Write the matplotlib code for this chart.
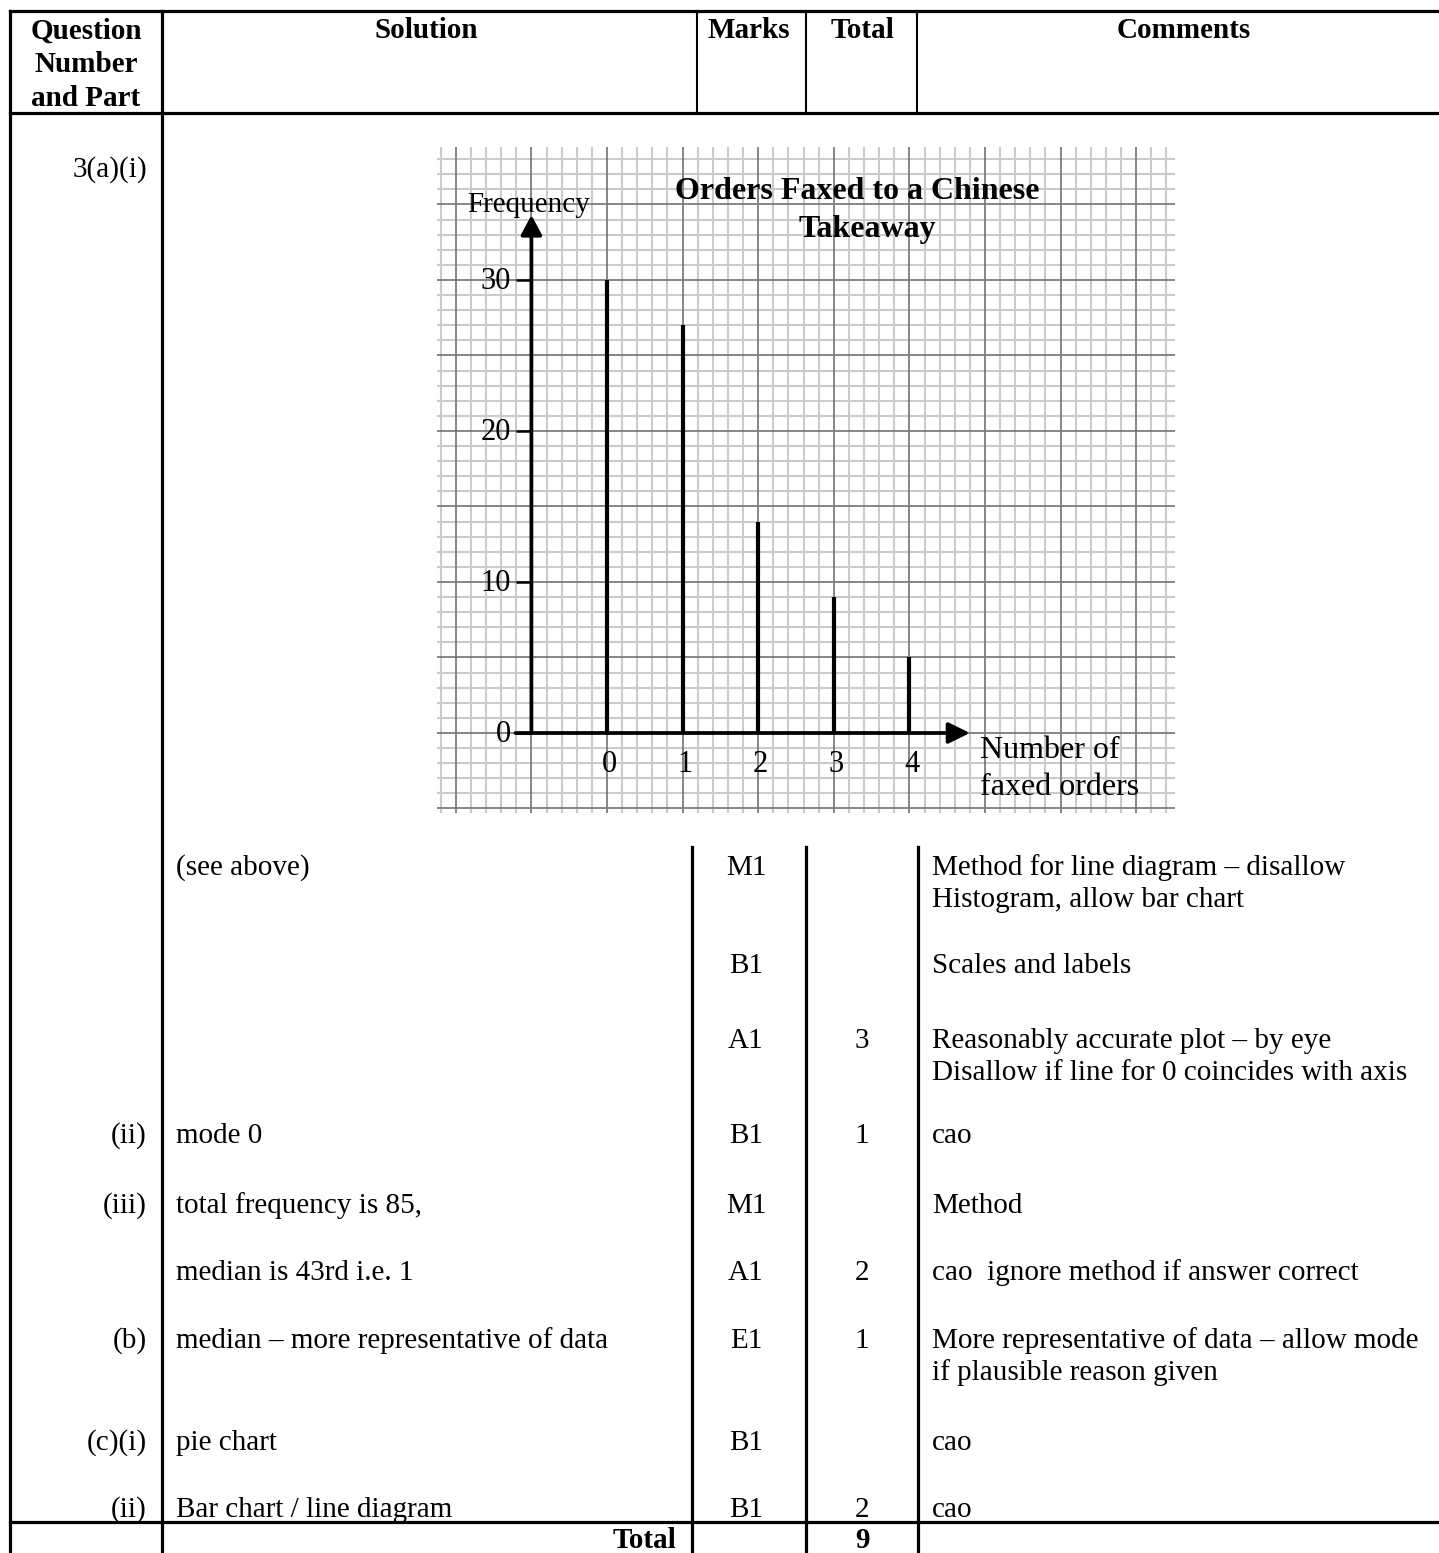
import numpy as np
import matplotlib
matplotlib.use("Agg")
import matplotlib.pyplot as plt

plt.rcParams['font.family'] = ['Liberation Serif', 'DejaVu Serif']

# Chart data
orders = [0, 1, 2, 3, 4]
frequency = [30, 27, 14, 9, 5]
y_ticks = [0, 10, 20, 30]
chart_title = ["Orders Faxed to a Chinese", "Takeaway"]
y_label = "Frequency"
x_label = ["Number of", "faxed orders"]

# Table contents
header_cols = ["Question\nNumber\nand Part", "Solution", "Marks", "Total", "Comments"]
first_part = "3(a)(i)"
row_parts = ["", "", "", "(ii)", "(iii)", "", "(b)", "(c)(i)", "(ii)"]
row_solution = ["(see above)", "", "", "mode 0", "total frequency is 85,",
                "median is 43rd i.e. 1", "median \u2013 more representative of data",
                "pie chart", "Bar chart / line diagram"]
row_marks = ["M1", "B1", "A1", "B1", "M1", "A1", "E1", "B1", "B1"]
row_totals = ["", "", "3", "1", "", "2", "1", "", "2"]
row_comments = ["Method for line diagram \u2013 disallow\nHistogram, allow bar chart",
                "Scales and labels",
                "Reasonably accurate plot \u2013 by eye\nDisallow if line for 0 coincides with axis",
                "cao",
                "Method",
                "cao  ignore method if answer correct",
                "More representative of data \u2013 allow mode\nif plausible reason given",
                "cao",
                "cao"]
total_label = "Total"
grand_total = "9"

W, H = 1439, 1553
fig = plt.figure(figsize=(W / 100, H / 100), dpi=100)
fig.patch.set_facecolor('white')

# page axes in pixel coordinates
pg = fig.add_axes([0, 0, 1, 1])
pg.set_xlim(0, W)
pg.set_ylim(H, 0)
pg.axis('off')

FS = 21
thick = 2.3
thin = 1.5

# table lines
xl, xq = 10, 162
pg.plot([xl, W], [11, 11], color='k', lw=thick)
pg.plot([xl, W], [113, 113], color='k', lw=thick)
pg.plot([xl, W], [1522, 1522], color='k', lw=thick)
pg.plot([xl, xl], [11, H], color='k', lw=thick)
pg.plot([xq, xq], [11, H], color='k', lw=thick)
for xc in [697, 806, 917]:
    pg.plot([xc, xc], [11, 113], color='k', lw=thin)
for xc in [692, 806, 918]:
    pg.plot([xc, xc], [847, H], color='k', lw=thick)

# header text
hdr_x = [86, 426, 749, 862, 1184]
for txt, hx in zip(header_cols, hdr_x):
    for i, line in enumerate(txt.split("\n")):
        pg.text(hx, 31 + i * 34, line, ha='center', va='center', fontsize=FS, fontweight='bold')

pg.text(147, 170, first_part, ha='right', va='center', fontsize=FS)

dy = 3
row_y = [865, 963, 1038, 1133, 1203, 1270, 1338, 1440, 1507]
for i, ry in enumerate(row_y):
    ry = ry + dy
    pg.text(147, ry, row_parts[i], ha='right', va='center', fontsize=FS)
    pg.text(176, ry, row_solution[i], ha='left', va='center', fontsize=FS)
    pg.text(746, ry, row_marks[i], ha='center', va='center', fontsize=FS)
    pg.text(862, ry, row_totals[i], ha='center', va='center', fontsize=FS)
    for j, line in enumerate(row_comments[i].split("\n")):
        pg.text(932, ry + j * 32, line, ha='left', va='center', fontsize=FS)

pg.text(676, 1540, total_label, ha='right', va='center', fontsize=FS, fontweight='bold')
pg.text(862, 1540, grand_total, ha='center', va='center', fontsize=FS, fontweight='bold')

# chart on graph paper
X0, XU = 607, 75.6
Y0, YU = 733, 15.1
px_l, px_r, px_t, px_b = 437, 1175, 147, 813
ax = fig.add_axes([px_l / W, 1 - px_b / H, (px_r - px_l) / W, (px_b - px_t) / H])
ax.set_xlim((px_l - X0) / XU, (px_r - X0) / XU)
ax.set_ylim((Y0 - px_b) / YU, (Y0 - px_t) / YU)
ax.axis('off')

xlo, xhi = ax.get_xlim()
ylo, yhi = ax.get_ylim()
vx = np.round(np.arange(-2.2, 7.41, 0.2), 2)
hy = np.arange(-5, 39, 1)
minor_c, major_c = '#cbcbcb', '#7c7c7c'
ax.vlines([v for v in vx if abs(v - round(v)) > 1e-6], ylo, yhi, color=minor_c, lw=1.5, zorder=1)
ax.hlines([h for h in hy if h % 5 != 0], xlo, xhi, color=minor_c, lw=1.5, zorder=1)
ax.vlines([v for v in vx if abs(v - round(v)) < 1e-6], ylo, yhi, color=major_c, lw=1.3, zorder=2)
ax.hlines([h for h in hy if h % 5 == 0], xlo, xhi, color=major_c, lw=1.3, zorder=2)

# axes with arrows
ax.annotate('', xy=(-1, 34.3), xytext=(-1, 0), zorder=5,
            arrowprops=dict(arrowstyle='-|>,head_length=0.6,head_width=0.32', mutation_scale=20,
                            lw=2.7, color='k', shrinkA=0, shrinkB=0))
ax.annotate('', xy=(4.8, 0), xytext=(-1.21, 0), zorder=5,
            arrowprops=dict(arrowstyle='-|>,head_length=0.65,head_width=0.32', mutation_scale=20,
                            lw=2.7, color='k', shrinkA=0, shrinkB=0))
ax.hlines(y_ticks, -1.21, -1, color='k', lw=1.8, zorder=5)
for t in y_ticks:
    ax.text(-1.27, t - 0.1, str(t), ha='right', va='center', fontsize=22, zorder=6)
for o in orders:
    ax.text(o + 0.03, -2.1, str(o), ha='center', va='center', fontsize=22, zorder=6)

ax.vlines(orders, 0, frequency, color='k', lw=3.0, zorder=4)

ax.text(-1.85, 34.95, y_label, ha='left', va='center', fontsize=FS, zorder=6)
ax.text(4.93, -1.15, x_label[0], ha='left', va='center', fontsize=23, zorder=6)
ax.text(4.93, -3.6, x_label[1], ha='left', va='center', fontsize=23, zorder=6)
ax.text(3.31, 35.85, chart_title[0], ha='center', va='center', fontsize=23, fontweight='bold', zorder=6)
ax.text(3.45, 33.35, chart_title[1], ha='center', va='center', fontsize=23, fontweight='bold', zorder=6)

fig.savefig('out.png', dpi=100, facecolor='white')
